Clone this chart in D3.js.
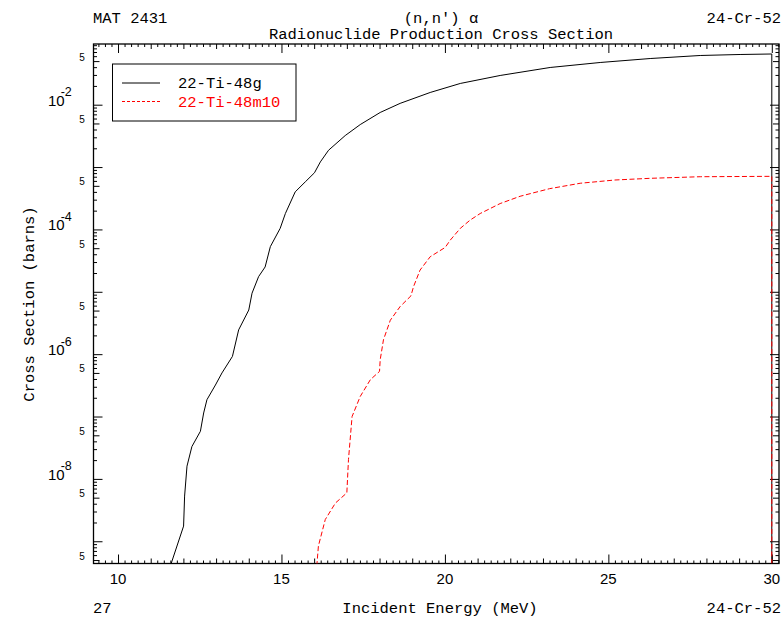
<!DOCTYPE html>
<html>
<head>
<meta charset="utf-8">
<script src="https://cdnjs.cloudflare.com/ajax/libs/d3/7.8.5/d3.min.js"></script>
<style>
  body { margin: 0; background: #fff; }
  .mono { font-family: "Liberation Mono", "DejaVu Sans Mono", monospace; font-size: 15.5px; fill: #000; }
  .num { font-family: "Liberation Sans", Arial, sans-serif; fill: #000; }
</style>
</head>
<body>
<div id="chart"></div>
<script>
// 22-Ti-48g  (incident energy MeV, cross section barns)
var energyG = [11.60, 12.006, 12.037, 12.11, 12.26, 12.52, 12.62, 12.72, 12.98, 13.18, 13.50,
               13.69, 14.00, 14.10, 14.30, 14.50, 14.66, 14.96, 15.12, 15.42, 15.73, 16.01,
               16.19, 16.44, 16.95, 17.41, 18.02, 18.63, 19.55, 20.47, 21.69, 23.22, 24.75,
               26.28, 27.81, 29.03, 30.0];
var xsG = [4.0e-10, 1.75e-9, 5.3e-9, 1.6e-8, 3.3e-8, 5.8e-8, 1.14e-7, 1.86e-7, 3.2e-7, 5.0e-7, 9.2e-7,
           2.45e-6, 5.1e-6, 9.5e-6, 1.75e-5, 2.5e-5, 5.3e-5, 1.04e-4, 1.8e-4, 4.0e-4, 5.8e-4, 8.1e-4,
           1.21e-3, 1.86e-3, 3.2e-3, 4.8e-3, 7.5e-3, 0.0105, 0.0157, 0.0219, 0.0294, 0.0395, 0.0475,
           0.055, 0.0615, 0.0638, 0.065];

// 22-Ti-48m10
var energyM = [16.08, 16.13, 16.34, 16.65, 17.00, 17.05, 17.16, 17.41, 17.72, 18.00, 18.02,
               18.12, 18.33, 18.63, 18.96, 19.04, 19.24, 19.55, 20.01, 20.16, 20.47, 20.77,
               21.08, 21.69, 22.30, 23.20, 24.14, 25.20, 26.28, 27.81, 30.0];
var xsM = [4.0e-10, 8.4e-10, 2.23e-9, 4.1e-9, 5.97e-9, 2.04e-8, 1.0e-7, 2.1e-7, 3.9e-7, 5.3e-7, 8.1e-7,
           1.7e-6, 3.5e-6, 5.8e-6, 8.6e-6, 1.21e-5, 2.23e-5, 3.65e-5, 5.15e-5, 6.7e-5, 1.04e-4, 1.41e-4,
           1.8e-4, 2.6e-4, 3.4e-4, 4.5e-4, 5.5e-4, 6.2e-4, 6.6e-4, 7.0e-4, 7.1e-4];

var seriesNames = ["22-Ti-48g", "22-Ti-48m10"];
var seriesColors = ["#000000", "#ff0000"];
var seriesDash = [null, "5,2.5"];
var xLabelTicks = [10, 15, 20, 25, 30];
var yPowerLabels = [-2, -4, -6, -8];

var width = 783, height = 620;
var plotLeft = 93.5, plotRight = 779, plotTop = 44, plotBottom = 563.5;

var svg = d3.select("#chart")
            .append("svg")
            .attr("width", width)
            .attr("height", height);

var x = d3.scaleLinear()
          .domain([9.25, 30.22])
          .range([plotLeft, plotRight]);

var y = d3.scaleLog()
          .domain([4.4e-10, 0.094])
          .range([plotBottom, plotTop]);

// header / footer texts
svg.append("text").attr("class", "mono").attr("x", 93).attr("y", 23).text("MAT 2431");
svg.append("text").attr("class", "mono").attr("x", 441).attr("y", 23).attr("text-anchor", "middle").text("(n,n') \u03b1");
svg.append("text").attr("class", "mono").attr("x", 781).attr("y", 23).attr("text-anchor", "end").text("24-Cr-52");
svg.append("text").attr("class", "mono").attr("x", 441).attr("y", 39).attr("text-anchor", "middle").text("Radionuclide Production Cross Section");
svg.append("text").attr("class", "mono").attr("x", 93).attr("y", 613).text("27");
svg.append("text").attr("class", "mono").attr("x", 440).attr("y", 613).attr("text-anchor", "middle").text("Incident Energy (MeV)");
svg.append("text").attr("class", "mono").attr("x", 781).attr("y", 613).attr("text-anchor", "end").text("24-Cr-52");
svg.append("text").attr("class", "mono")
   .attr("transform", "translate(34,304) rotate(-90)")
   .attr("text-anchor", "middle")
   .text("Cross Section (barns)");

// ticks
var xMinor = d3.range(47, 152).map(function(i) { return i / 5; });
function xTickLen(v) {
    var i = Math.round(v * 5);
    if (i % 25 == 0) return 9;
    if (i % 5 == 0) return 5;
    return 3;
}
var yMinor = [];
for (var p = -10; p <= -1; p++) {
    for (var k = 1; k <= 9; k++) {
        var v = k * Math.pow(10, p);
        if (v >= y.domain()[0] && v <= y.domain()[1]) yMinor.push(v);
    }
}
function yTickLen(v) {
    var k = Math.round(v / Math.pow(10, Math.floor(Math.log10(v) + 1e-9)));
    if (k == 1) return 9;
    if (k == 5) return 6;
    return 3.5;
}

function styleAxis(g, lenFn, sign, horizontal) {
    g.select(".domain").remove();
    g.selectAll(".tick text").remove();
    g.selectAll(".tick line")
     .attr("stroke", "#000")
     .attr(horizontal ? "y2" : "x2", function(d) { return sign * lenFn(d); });
}

svg.append("g")
   .attr("transform", "translate(0," + plotBottom + ")")
   .call(d3.axisTop(x).tickValues(xMinor))
   .call(styleAxis, xTickLen, -1, true);
svg.append("g")
   .attr("transform", "translate(0," + plotTop + ")")
   .call(d3.axisBottom(x).tickValues(xMinor))
   .call(styleAxis, xTickLen, 1, true);
svg.append("g")
   .attr("transform", "translate(" + plotLeft + ",0)")
   .call(d3.axisRight(y).tickValues(yMinor))
   .call(styleAxis, yTickLen, 1, false);
svg.append("g")
   .attr("transform", "translate(" + plotRight + ",0)")
   .call(d3.axisLeft(y).tickValues(yMinor))
   .call(styleAxis, yTickLen, -1, false);

// x labels
svg.append("g")
   .selectAll("text")
   .data(xLabelTicks)
   .enter().append("text")
   .attr("class", "num")
   .attr("font-size", 15)
   .attr("text-anchor", "middle")
   .attr("x", function(d) { return x(d); })
   .attr("y", 584)
   .text(function(d) { return d; });

// y "5" labels
var fives = yMinor.filter(function(v) { return yTickLen(v) == 6; });
svg.append("g")
   .selectAll("text")
   .data(fives)
   .enter().append("text")
   .attr("class", "num")
   .attr("font-size", 10)
   .attr("text-anchor", "middle")
   .attr("x", 82)
   .attr("y", function(d) { return y(d) - 0.5; })
   .text("5");

// y power-of-ten labels (superscript minus sits over the zero, as in the original)
var pw = svg.append("g")
            .selectAll("text")
            .data(yPowerLabels)
            .enter().append("text")
            .attr("class", "num")
            .attr("font-size", 15)
            .attr("x", 48)
            .attr("y", function(d) { return y(Math.pow(10, d)) + 1; });
pw.append("tspan").text("10");
pw.append("tspan")
  .attr("font-size", 12.5)
  .attr("dx", -4)
  .attr("dy", -9.5)
  .text(function(d) { return "-" + Math.abs(d); });

// frame
svg.append("rect")
   .attr("x", plotLeft).attr("y", plotTop)
   .attr("width", plotRight - plotLeft).attr("height", plotBottom - plotTop)
   .attr("fill", "none")
   .attr("stroke", "#000")
   .attr("stroke-width", 1.3);

svg.append("clipPath").attr("id", "clip")
   .append("rect")
   .attr("x", plotLeft).attr("y", plotTop)
   .attr("width", plotRight - plotLeft).attr("height", plotBottom - plotTop);

var line = d3.line()
    .x(function(d) { return x(d[0]); })
    .y(function(d) { return y(d[1]); });

function withDrop(es, vs) {
    var pts = es.map(function(e, i) { return [e, vs[i]]; });
    pts.push([es[es.length - 1], y.domain()[0]]);
    return pts;
}

svg.append("path")
   .datum(withDrop(energyG, xsG))
   .attr("clip-path", "url(#clip)")
   .attr("fill", "none")
   .attr("stroke", seriesColors[0])
   .attr("stroke-width", 1)
   .attr("stroke-linejoin", "round")
   .attr("d", line);

svg.append("path")
   .datum(withDrop(energyM, xsM))
   .attr("clip-path", "url(#clip)")
   .attr("fill", "none")
   .attr("stroke", seriesColors[1])
   .attr("stroke-width", 1)
   .attr("stroke-dasharray", seriesDash[1])
   .attr("d", line);

// legend
svg.append("rect")
   .attr("x", 112.5).attr("y", 64)
   .attr("width", 183.5).attr("height", 57)
   .attr("fill", "#fff")
   .attr("stroke", "#000")
   .attr("stroke-width", 1);

var leg = svg.append("g")
             .selectAll("g")
             .data(d3.range(seriesNames.length))
             .enter().append("g")
             .attr("transform", function(i) { return "translate(0," + (83 + i * 18.5) + ")"; });
leg.append("line")
   .attr("x1", 122).attr("x2", 160)
   .attr("stroke", function(i) { return seriesColors[i]; })
   .attr("stroke-dasharray", function(i) { return i ? "3,2" : null; });
leg.append("text")
   .attr("class", "mono")
   .attr("x", 178).attr("y", 5)
   .style("fill", function(i) { return seriesColors[i]; })
   .text(function(i) { return seriesNames[i]; });
</script>
</body>
</html>
